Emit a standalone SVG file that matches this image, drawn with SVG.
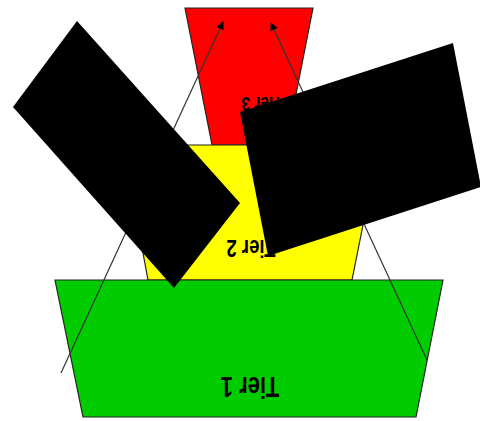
<svg xmlns="http://www.w3.org/2000/svg" width="480" height="421" viewBox="0 0 480 421">
<defs>
<style>
.tier{stroke:#222;stroke-width:1.2}
.lbl{font-family:"Liberation Sans",Arial,sans-serif;font-weight:bold;text-anchor:middle;fill:#000}
.conn{stroke:#333;stroke-width:1.2;fill:none;marker-end:url(#ah)}
.blk{fill:#000}
</style>
<marker id="ah" viewBox="0 0 10 10" refX="9" refY="5" markerWidth="9" markerHeight="8" markerUnits="userSpaceOnUse" orient="auto">
<path d="M0,0 L10,5 L0,10 Z" fill="#000"/>
</marker>
</defs>
<rect width="480" height="421" fill="#fff"/>
<g id="tier3">
<polygon class="tier" fill="#ff0000" points="185,8 313,8 286,145 212,145"/>
<text class="lbl" font-size="15.5" transform="translate(262,104) rotate(180) scale(1,1.3)" y="5.5">Tier 3</text>
</g>
<g id="tier2">
<polygon class="tier" fill="#ffff00" points="123,145 379,145 352,280 148,280"/>
<text class="lbl" font-size="18.5" transform="translate(251,249) rotate(180) scale(1,1.3)" y="6.6">Tier 2</text>
</g>
<g id="tier1">
<polygon class="tier" fill="#00cc00" points="55,280 443,280 416,417 83,417"/>
<text class="lbl" font-size="22" transform="translate(250,387) rotate(180) scale(1,1.3)" y="7.9">Tier 1</text>
</g>
<g id="connectors">
<line class="conn" x1="61" y1="373" x2="223" y2="22"/>
<line class="conn" x1="427" y1="360" x2="271" y2="23"/>
</g>
<g id="blocks">
<polygon id="block1" class="blk" points="77,21 240,203 174,288 13,107"/>
<polygon id="block2" class="blk" points="240,112 453,43 481,187 268,256"/>
</g>
</svg>
